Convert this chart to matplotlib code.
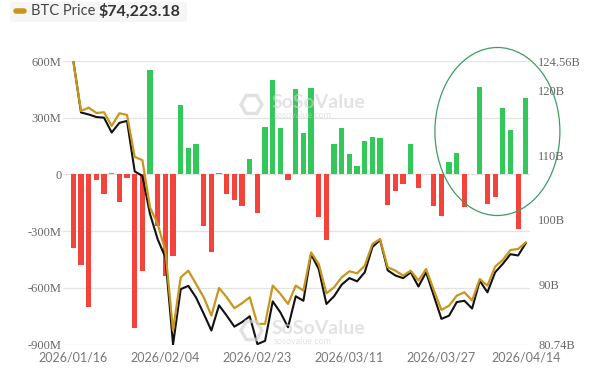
import numpy as np
import pandas as pd
import matplotlib
matplotlib.use("Agg")
import matplotlib.pyplot as plt
from matplotlib.patches import Ellipse, FancyBboxPatch
from matplotlib.lines import Line2D

# trading days, market holidays removed
holidays = ["2026-01-19", "2026-02-16", "2026-04-03"]
dates = pd.bdate_range("2026-01-16", "2026-04-14")
dates = dates[~dates.isin(pd.to_datetime(holidays))]

# daily total net inflow (million USD)
net_inflow = [-391, -479, -703, -32, -105, 5, -146, -19, -812, -509,
              553, -272, -540, -431, 367, 140, 161, -274, -409, 10,
              -105, -133, -165, 82, -203, 251, 498, 247, -28, 451,
              217, 456, -225, -347, 161, 246, 109, 47, 175, 196,
              193, -161, -89, -49, 161, -72, 3, -168, -221, 65,
              114, -172, 3, 465, -158, -119, 351, 235, -289, 405]

# total net assets (billion USD)
net_assets = [124.56, 116.6, 116.3, 115.9, 115.8, 113.5, 115.0, 115.3, 107.5, 106.8,
              100.9, 97.0, 94.2, 80.74, 89.3, 89.8, 88.0, 85.5, 82.9, 86.8,
              85.2, 83.5, 84.2, 85.1, 80.8, 81.3, 87.4, 85.7, 83.4, 88.2,
              87.5, 94.7, 92.4, 87.0, 88.2, 90.0, 91.0, 90.5, 91.9, 95.8,
              96.9, 92.2, 91.4, 91.0, 91.9, 89.7, 91.9, 88.3, 84.7, 85.2,
              87.3, 87.5, 86.3, 90.6, 88.8, 91.9, 93.2, 94.7, 94.5, 96.4]

# BTC price (USD)
btc_price = [95500, 89730, 90120, 89490, 89570, 87960, 89450, 89260, 84310, 83920,
             78340, 76380, 73240, 63820, 70100, 70880, 69310, 67740, 65580, 68840,
             67740, 66450, 67040, 67740, 64600, 64600, 69120, 68140, 66960, 69120,
             68530, 73040, 71670, 68210, 68920, 70100, 70810, 70570, 71470, 74030,
             74610, 71280, 70880, 70300, 70880, 69710, 71080, 68610, 66250, 66760,
             67940, 68330, 67350, 69900, 69120, 71360, 72140, 73320, 73440, 74223.18]

left_ticks = [600, 300, 0, -300, -600, -900]
left_labels = ["600M", "300M", "0", "-300M", "-600M", "-900M"]
right_ticks = [124.56, 120, 110, 100, 90, 80.74]
date_ticks = [0, 12, 24, 36, 48, 59]

GREEN = "#34c759"
RED = "#f4433a"
GOLD = "#c9961c"

fig = plt.figure(figsize=(6.04, 3.73), dpi=100)
ax = fig.add_axes([63 / 604, 1 - 344.5 / 373, 467 / 604, 283.5 / 373])

x = np.arange(len(dates))
colors = [GREEN if v >= 0 else RED for v in net_inflow]
ax.bar(x, net_inflow, width=0.68, color=colors, zorder=2)

ax.set_xlim(-1.35, 59.55)
ax.set_ylim(-900, 600)
ax.set_yticks(left_ticks)
ax.set_yticklabels(left_labels)
ax.set_xticks(date_ticks)
ax.set_xticklabels([dates[i].strftime("%Y/%m/%d") for i in date_ticks])
for lab in ax.get_yticklabels():
    lab.set_fontfamily("Liberation Serif")
    lab.set_fontsize(9)
    lab.set_color("#666666")
for lab in ax.get_xticklabels():
    lab.set_fontfamily("Lato")
    lab.set_fontsize(9)
    lab.set_color("#777777")
ax.tick_params(axis="both", length=0)
ax.tick_params(axis="y", pad=1)
ax.tick_params(axis="x", pad=5)
ax.grid(axis="y", color="#e3e3e3", linewidth=0.9, zorder=0)
for s in ax.spines.values():
    s.set_visible(False)

# net assets on the right axis
ax2 = ax.twinx()
ax2.plot(x, net_assets, color="#111111", linewidth=1.5, zorder=3)
ax2.set_ylim(80.74, 124.56)
ax2.set_yticks(right_ticks)
ax2.set_yticklabels([f"{v:g}B" for v in right_ticks])
for lab in ax2.get_yticklabels():
    lab.set_fontfamily("Liberation Serif")
    lab.set_fontsize(9)
    lab.set_color("#666666")
ax2.tick_params(axis="y", length=0, pad=6)
for s in ax2.spines.values():
    s.set_visible(False)

# BTC price on a hidden axis
ax3 = ax.twinx()
ax3.plot(x, btc_price, color=GOLD, linewidth=1.6, zorder=4)
ax3.set_ylim(62170, 95620)
ax3.set_yticks([])
for s in ax3.spines.values():
    s.set_visible(False)

# hand drawn circle
ax.add_patch(Ellipse((55.3, 227), 16.3, 889, fill=False, edgecolor="#3e9e60",
                     linewidth=0.9, clip_on=False, zorder=5))

# watermarks
for wy in [0.72, 0.115]:
    fig.add_artist(Line2D([251 / 604], [wy], marker="H", markersize=15,
                          markerfacecolor="none", markeredgecolor="#d5d5d5",
                          markeredgewidth=2.5, alpha=0.7))
    fig.text(272 / 604, wy + 0.005, "SoSoValue", fontsize=14, fontweight="bold",
             color="#d0d0d0", alpha=0.6, family="Lato", va="center")
    fig.text(274 / 604, wy - 0.03, "sosovalue.com", fontsize=6.5, color="#d0d0d0",
             alpha=0.6, family="Lato", va="center")

# legend
fig.add_artist(FancyBboxPatch((10 / 604, 1 - 22 / 373), 177 / 604, 20 / 373,
                              boxstyle="round,pad=0,rounding_size=0.005",
                              facecolor="#f6f6f6", edgecolor="none"))
fig.add_artist(Line2D([16 / 604, 24 / 604], [1 - 11 / 373] * 2, color=GOLD,
                      linewidth=4, solid_capstyle="round"))
fig.text(31 / 604, 1 - 11 / 373, "BTC Price", family="Lato", fontsize=10.5,
         color="#444444", va="center")
fig.text(98 / 604, 1 - 11 / 373, "$74,223.18", family="Lato", fontsize=11.5,
         fontweight="bold", color="#333333", va="center")

fig.savefig("out.png", dpi=100)
